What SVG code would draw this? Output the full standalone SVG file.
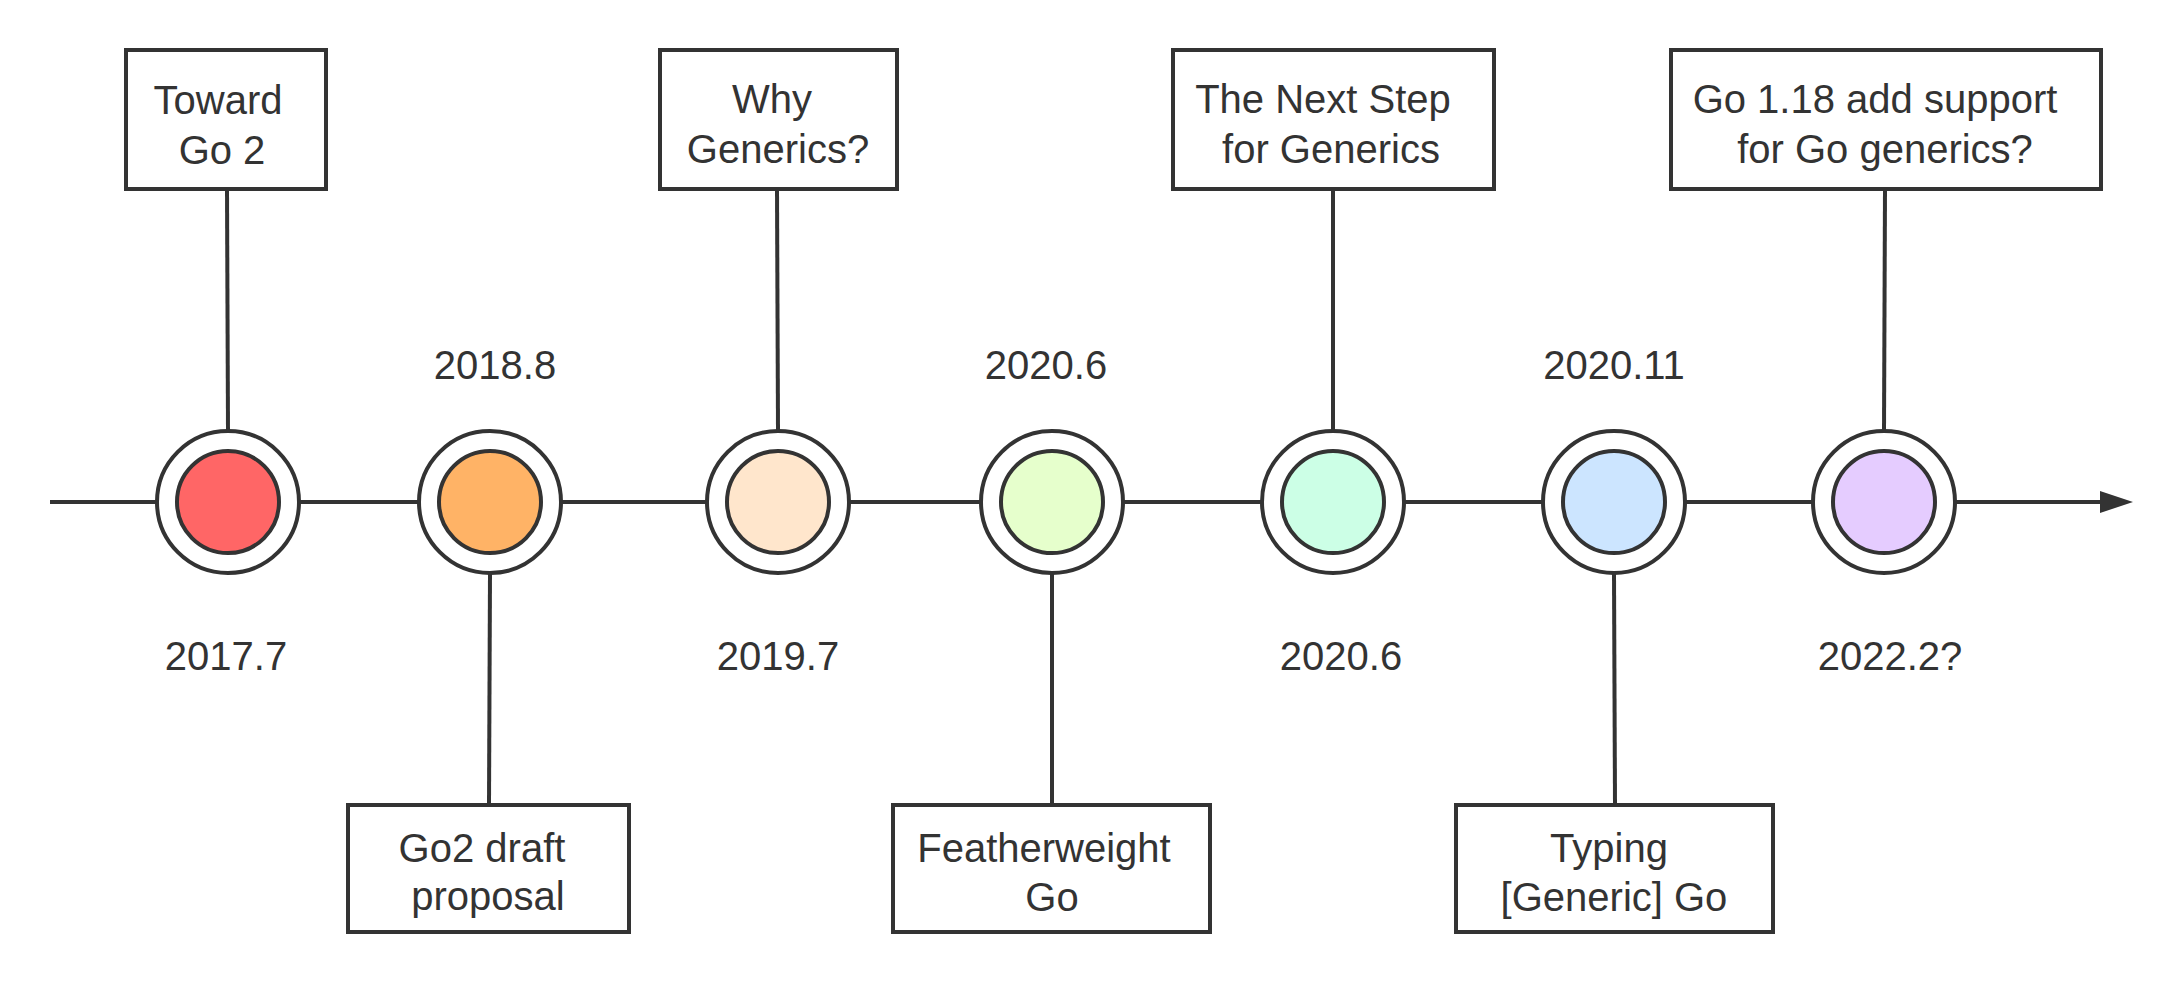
<svg xmlns="http://www.w3.org/2000/svg" width="2182" height="982" viewBox="0 0 2182 982">
  <style>
    .line { stroke: #333333; stroke-width: 4; fill: none; }
    .box { fill: #ffffff; stroke: #333333; stroke-width: 4; }
    .ring { fill: #ffffff; stroke: #333333; stroke-width: 4; }
    .dot { stroke: #333333; stroke-width: 4; }
    text { font-family: "Liberation Sans", Arial, sans-serif; font-size: 40px; fill: #333333; text-anchor: middle; }
  </style>
  <defs>
    <marker id="arrow" viewBox="0 0 33 22" refX="0" refY="11" markerWidth="33" markerHeight="22" markerUnits="userSpaceOnUse" orient="auto">
      <path d="M0,0 L33,11 L0,22 Z" fill="#333333"/>
    </marker>
  </defs>
  <rect width="2182" height="982" fill="#ffffff"/>

  <!-- timeline axis and stems -->
  <g id="connectors">
    <line class="line" x1="50" y1="502" x2="2100" y2="502" marker-end="url(#arrow)"/>
    <line class="line" x1="227" y1="189" x2="228" y2="431"/>
    <line class="line" x1="490" y1="573" x2="489" y2="804"/>
    <line class="line" x1="777" y1="189" x2="778" y2="431"/>
    <line class="line" x1="1052" y1="573" x2="1052" y2="804"/>
    <line class="line" x1="1333" y1="189" x2="1333" y2="431"/>
    <line class="line" x1="1614" y1="573" x2="1615" y2="804"/>
    <line class="line" x1="1885" y1="189" x2="1884" y2="431"/>
  </g>

  <!-- milestones on the axis -->
  <g id="m2017">
    <circle class="ring" cx="228" cy="502" r="71"/>
    <circle class="dot" cx="228" cy="502" r="51" fill="#FF6666"/>
    <text x="226" y="670">2017.7</text>
  </g>
  <g id="m2018">
    <circle class="ring" cx="490" cy="502" r="71"/>
    <circle class="dot" cx="490" cy="502" r="51" fill="#FFB366"/>
    <text x="495" y="379">2018.8</text>
  </g>
  <g id="m2019">
    <circle class="ring" cx="778" cy="502" r="71"/>
    <circle class="dot" cx="778" cy="502" r="51" fill="#FFE6CC"/>
    <text x="778" y="670">2019.7</text>
  </g>
  <g id="m2020a">
    <circle class="ring" cx="1052" cy="502" r="71"/>
    <circle class="dot" cx="1052" cy="502" r="51" fill="#E6FFCC"/>
    <text x="1046" y="379">2020.6</text>
  </g>
  <g id="m2020b">
    <circle class="ring" cx="1333" cy="502" r="71"/>
    <circle class="dot" cx="1333" cy="502" r="51" fill="#CCFFE6"/>
    <text x="1341" y="670">2020.6</text>
  </g>
  <g id="m2020c">
    <circle class="ring" cx="1614" cy="502" r="71"/>
    <circle class="dot" cx="1614" cy="502" r="51" fill="#CCE5FF"/>
    <text x="1614" y="379">2020.11</text>
  </g>
  <g id="m2022">
    <circle class="ring" cx="1884" cy="502" r="71"/>
    <circle class="dot" cx="1884" cy="502" r="51" fill="#E5CCFF"/>
    <text x="1890" y="670">2022.2?</text>
  </g>

  <!-- event boxes -->
  <g id="toward-go2">
    <rect class="box" x="126" y="50" width="200" height="139"/>
    <text x="218" y="114">Toward</text>
    <text x="222" y="164">Go 2</text>
  </g>
  <g id="go2-draft">
    <rect class="box" x="348" y="805" width="281" height="127"/>
    <text x="482" y="862">Go2 draft</text>
    <text x="488" y="910">proposal</text>
  </g>
  <g id="why-generics">
    <rect class="box" x="660" y="50" width="237" height="139"/>
    <text x="772" y="113">Why</text>
    <text x="778" y="163">Generics?</text>
  </g>
  <g id="featherweight">
    <rect class="box" x="893" y="805" width="317" height="127"/>
    <text x="1044" y="862">Featherweight</text>
    <text x="1052" y="911">Go</text>
  </g>
  <g id="next-step">
    <rect class="box" x="1173" y="50" width="321" height="139"/>
    <text x="1323" y="113">The Next Step</text>
    <text x="1331" y="163">for Generics</text>
  </g>
  <g id="typing-generic">
    <rect class="box" x="1456" y="805" width="317" height="127"/>
    <text x="1609" y="862">Typing</text>
    <text x="1614" y="911">[Generic] Go</text>
  </g>
  <g id="go118">
    <rect class="box" x="1671" y="50" width="430" height="139"/>
    <text x="1875" y="113">Go 1.18 add support</text>
    <text x="1885" y="163">for Go generics?</text>
  </g>
</svg>
